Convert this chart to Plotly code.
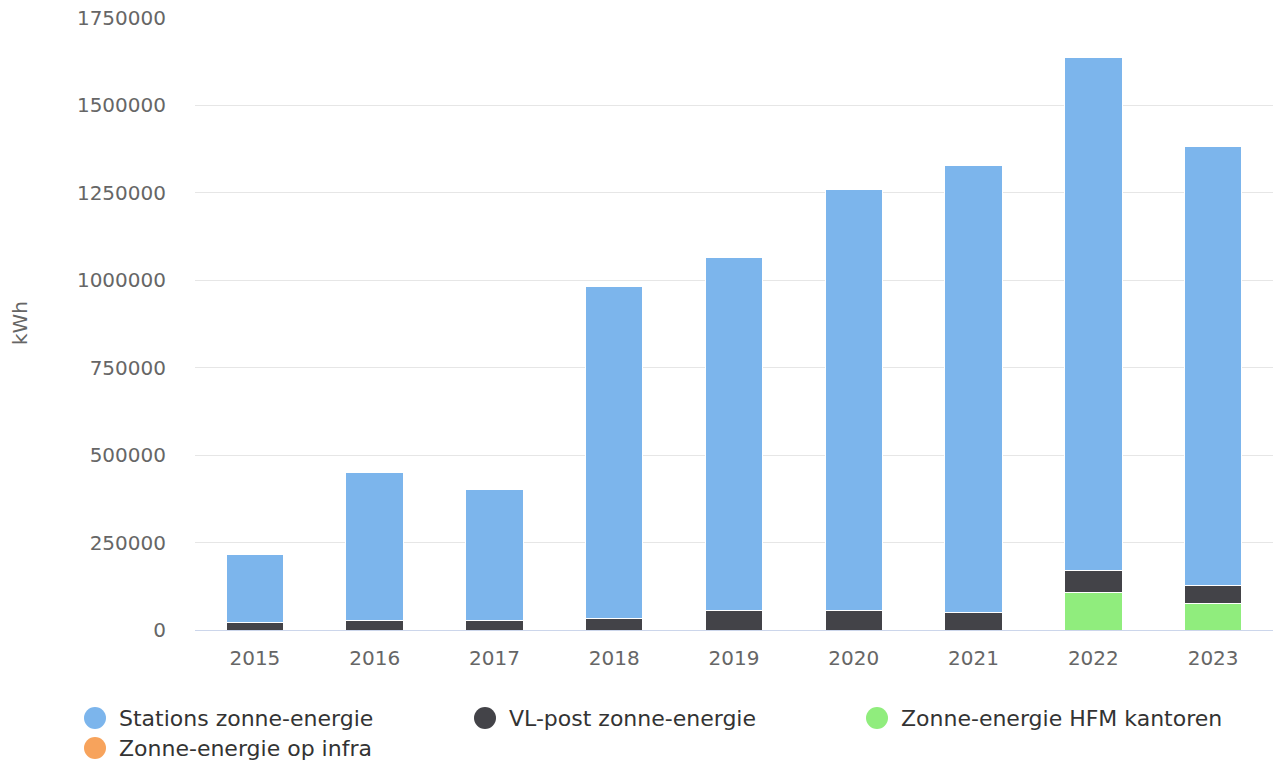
import plotly.graph_objects as go

# Yearly solar energy yield (kWh) per source
years = ["2015", "2016", "2017", "2018", "2019", "2020", "2021", "2022", "2023"]
stations = [194500, 420400, 371900, 947500, 1009000, 1206000, 1277500, 1466400, 1255400]
vl_post = [22000, 28600, 28600, 33500, 55000, 55000, 49500, 61800, 52300]
hfm_kantoren = [None, None, None, None, None, None, None, 107800, 76300]
op_infra = [None, None, None, None, None, None, None, None, None]

series_names = ["Stations zonne-energie", "VL-post zonne-energie",
                "Zonne-energie HFM kantoren", "Zonne-energie op infra"]
series_colors = ["#7cb5ec", "#434348", "#90ed7d", "#f7a35c"]
y_ticks = [0, 250000, 500000, 750000, 1000000, 1250000, 1500000, 1750000]

FONT = "DejaVu Sans"
W, H = 1274, 767
L, R, T, B = 195, 1, 18, 137
PW, PH = W - L - R, H - T - B

fig = go.Figure()

# stacked bottom-to-top: HFM, VL-post, Stations, infra
stack = [(hfm_kantoren, 2), (vl_post, 1), (stations, 0), (op_infra, 3)]
for vals, i in stack:
    fig.add_trace(go.Bar(
        x=years, y=vals, name=series_names[i],
        marker=dict(color=series_colors[i], line=dict(color="#ffffff", width=1)),
        width=0.48, showlegend=False,
    ))

fig.update_layout(
    width=W, height=H,
    barmode="stack",
    paper_bgcolor="#ffffff", plot_bgcolor="#ffffff",
    margin=dict(l=L, r=R, t=T, b=B, pad=0),
    font=dict(family=FONT, size=20, color="#666666"),
    showlegend=False,
    xaxis=dict(
        showgrid=False, showline=True, linecolor="#ccd6eb", linewidth=1,
        ticks="", ticklabelstandoff=10,
        tickfont=dict(family=FONT, size=20, color="#666666"),
    ),
    yaxis=dict(
        range=[0, 1750000], tickmode="array", tickvals=y_ticks,
        ticktext=[str(v) for v in y_ticks],
        showgrid=True, gridcolor="#e6e6e6", gridwidth=1,
        zeroline=False, showline=False, ticks="",
        ticklabelstandoff=28,
        tickfont=dict(family=FONT, size=20, color="#666666"),
    ),
)

def px_x(px):
    return (px - L) / PW

def px_y(py):
    return (H - B - py) / PH

# axis title
fig.add_annotation(
    x=px_x(20), y=px_y(323), xref="paper", yref="paper",
    text="kWh", textangle=-90, showarrow=False,
    font=dict(family=FONT, size=20, color="#666666"),
    xanchor="center", yanchor="middle",
)

# legend with round symbols
legend_pos = [(95, 718), (485, 718), (877, 718), (95, 748)]
for (cx, cy), name, color in zip(legend_pos, series_names, series_colors):
    fig.add_shape(
        type="circle", xref="paper", yref="paper",
        xsizemode="pixel", ysizemode="pixel",
        xanchor=px_x(cx), yanchor=px_y(cy),
        x0=-11, x1=11, y0=-11, y1=11,
        fillcolor=color, line=dict(width=0),
    )
    fig.add_annotation(
        x=px_x(cx + 22), y=px_y(cy), xref="paper", yref="paper",
        text=name, showarrow=False, xanchor="left", yanchor="middle",
        font=dict(family=FONT, size=22, color="#333333"),
    )

fig.write_html("out.html")
